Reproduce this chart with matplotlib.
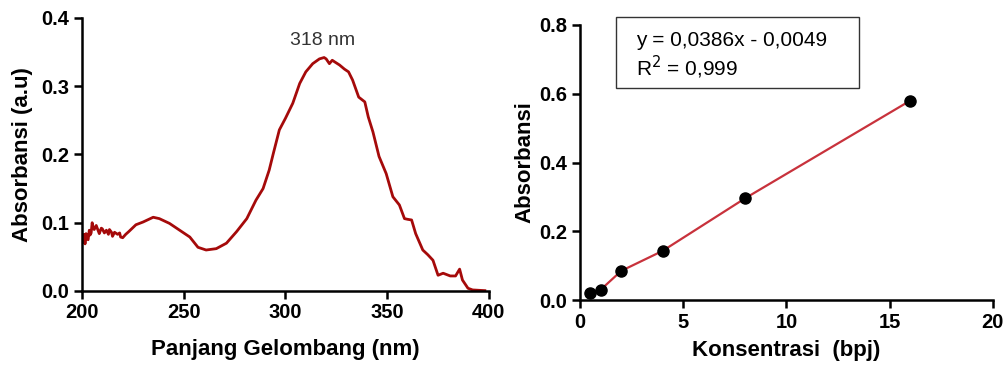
import matplotlib.pyplot as plt
from matplotlib.patches import Rectangle
from matplotlib.ticker import FormatStrFormatter

plt.rcParams['font.family'] = ['Liberation Sans', 'DejaVu Sans']

# UV-Vis spectrum
wavelength = [200, 200.5, 201, 201.5, 202, 202.5, 203, 203.6, 204, 204.5, 205, 205.5,
              206, 207, 208, 208.5, 209.5, 210, 211, 212, 213, 213.5, 214.5, 215,
              216, 217.5, 218.5, 219, 220, 221.5, 223, 226.5, 230, 235, 238, 243,
              248, 253, 257, 261, 266, 271, 276, 281, 285.5, 289, 292, 294, 297,
              300, 303.6, 307, 310, 313.4, 316.7, 319, 320, 321.6, 323, 324, 326.6,
              329, 331, 333, 336, 339, 340.7, 343, 346, 349.5, 352.8, 356, 358.5,
              360, 362, 364, 367.5, 370, 372.5, 375, 377.5, 381, 383.6, 385.6, 387,
              389.7, 392, 395, 398]
absorbance = [0.078, 0.071, 0.083, 0.069, 0.084, 0.077, 0.075, 0.089, 0.082, 0.085,
              0.100, 0.093, 0.090, 0.096, 0.088, 0.084, 0.092, 0.091, 0.085, 0.089,
              0.083, 0.090, 0.086, 0.080, 0.086, 0.083, 0.085, 0.079, 0.078, 0.083,
              0.087, 0.097, 0.101, 0.108, 0.106, 0.099, 0.089, 0.079, 0.064, 0.060,
              0.062, 0.070, 0.087, 0.106, 0.133, 0.150, 0.177, 0.201, 0.236, 0.253,
              0.275, 0.304, 0.321, 0.333, 0.340, 0.342, 0.340, 0.333, 0.338, 0.336,
              0.331, 0.325, 0.321, 0.309, 0.284, 0.277, 0.255, 0.233, 0.197, 0.172,
              0.138, 0.126, 0.106, 0.105, 0.104, 0.084, 0.060, 0.053, 0.045, 0.023,
              0.026, 0.022, 0.022, 0.032, 0.016, 0.004, 0.0015, 0.001, 0.0005]

# calibration curve
konsentrasi = [0.5, 1, 2, 4, 8, 16]
absorbansi = [0.020, 0.030, 0.085, 0.143, 0.296, 0.580]

fig = plt.figure(figsize=(10.06, 3.66), dpi=100)
ax1 = fig.add_axes([0.0815, 0.205, 0.4045, 0.746])
ax2 = fig.add_axes([0.5765, 0.180, 0.4105, 0.752])

for ax in (ax1, ax2):
    ax.spines['top'].set_visible(False)
    ax.spines['right'].set_visible(False)
    ax.spines['left'].set_linewidth(1.8)
    ax.spines['bottom'].set_linewidth(1.8)
    ax.tick_params(direction='out', length=6, width=1.8, labelsize=14.5, pad=3)

ax1.plot(wavelength, absorbance, color='#a50a0a', lw=2.0)
ax1.set_xlim(200, 400)
ax1.set_ylim(0, 0.4)
ax1.set_xticks([200, 250, 300, 350, 400])
ax1.set_yticks([0.0, 0.1, 0.2, 0.3, 0.4])
ax1.yaxis.set_major_formatter(FormatStrFormatter('%.1f'))
ax1.set_xlabel('Panjang Gelombang (nm)', fontsize=16, fontweight='bold', labelpad=12)
ax1.set_ylabel('Absorbansi (a.u)', fontsize=16, fontweight='bold', labelpad=6)
ax1.text(318, 0.355, '318 nm', ha='center', va='bottom', fontsize=14, color='#333333')
for lab in ax1.get_xticklabels() + ax1.get_yticklabels():
    lab.set_fontweight('bold')

ax2.plot(konsentrasi, absorbansi, color='#c8323c', lw=1.6, zorder=2)
ax2.plot(konsentrasi, absorbansi, 'o', color='black', ms=8, zorder=3, clip_on=False)
ax2.set_xlim(0, 20)
ax2.set_ylim(0, 0.8)
ax2.set_xticks([0, 5, 10, 15, 20])
ax2.set_yticks([0.0, 0.2, 0.4, 0.6, 0.8])
ax2.yaxis.set_major_formatter(FormatStrFormatter('%.1f'))
ax2.set_xlabel('Konsentrasi  (bpj)', fontsize=16, fontweight='bold', labelpad=6)
ax2.set_ylabel('Absorbansi', fontsize=16, fontweight='bold', labelpad=3)
for lab in ax2.get_xticklabels() + ax2.get_yticklabels():
    lab.set_fontweight('bold')

# equation box
ax2.add_patch(Rectangle((0.087, 0.771), 0.589, 0.258, transform=ax2.transAxes,
                        fc='white', ec='#333333', lw=1.0, clip_on=False, zorder=4))
ax2.text(0.136, 0.945, 'y = 0,0386x - 0,0049', transform=ax2.transAxes,
         ha='left', va='center', fontsize=15, zorder=5)
ax2.text(0.136, 0.847, 'R$^2$ = 0,999', transform=ax2.transAxes,
         ha='left', va='center', fontsize=15, zorder=5)

fig.savefig('out.png', dpi=100)
